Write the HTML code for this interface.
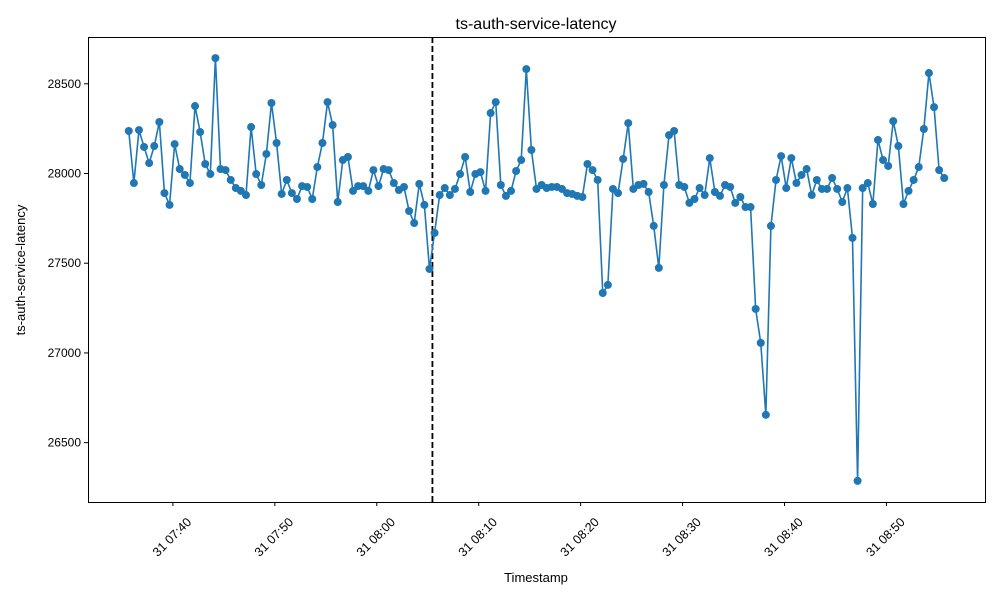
<!DOCTYPE html>
<html><head><meta charset="utf-8"><style>
body{margin:0;background:#fff}
svg{font-family:"Liberation Sans","DejaVu Sans",sans-serif}
</style></head><body>
<svg id="chart" width="1000" height="600" xmlns="http://www.w3.org/2000/svg">
<rect width="1000" height="600" fill="#fff"/>
<text x="536" y="29" font-size="16" text-anchor="middle">ts-auth-service-latency</text>
<text x="536" y="582" font-size="13" text-anchor="middle">Timestamp</text>
<text transform="translate(25,270) rotate(-90)" font-size="13" text-anchor="middle">ts-auth-service-latency</text>
<g id="plot"></g>
<rect x="88.5" y="37.5" width="897" height="465" fill="none" stroke="#000" stroke-width="1"/>
</svg>
<script>
const values = [28237,27947,28242,28148,28058,28153,28287,27891,27825,28164,
28025,27992,27947,28376,28231,28053,27997,28643,28025,28019,
27964,27919,27903,27880,28259,27997,27936,28109,28393,28170,
27886,27964,27891,27858,27930,27925,27858,28036,28170,28398,
28270,27841,28075,28092,27903,27930,27930,27903,28019,27930,
28025,28019,27947,27908,27925,27791,27724,27942,27825,27468,
27669,27880,27919,27880,27914,27997,28092,27897,27997,28008,
27903,28337,28398,27936,27875,27903,28014,28075,28582,28131,
27914,27936,27919,27925,27925,27914,27891,27886,27875,27869,
28053,28019,27964,27334,27379,27914,27891,28081,28281,27914,
27936,27942,27897,27708,27474,27936,28214,28237,27936,27925,
27836,27858,27919,27880,28086,27897,27875,27936,27925,27836,
27869,27813,27813,27245,27056,26655,27708,27964,28097,27919,
28086,27947,27992,28025,27880,27964,27914,27914,27975,27914,
27841,27919,27641,26287,27919,27947,27830,28187,28075,28042,
28292,28153,27830,27903,27964,28036,28248,28560,28370,28019,
27975];
const startMinute = -4.33; // minutes relative to 07:40 (first sample ~07:35:40)
const stepMinutes = 0.5;
const yTicks = [26500,27000,27500,28000,28500];
const xTickLabels = ["31 07:40","31 07:50","31 08:00","31 08:10","31 08:20","31 08:30","31 08:40","31 08:50"];
const xTickMinutes = [0,10,20,30,40,50,60,70];
const eventMinute = 25.46;

const NS="http://www.w3.org/2000/svg";
const plot=document.getElementById('plot');
const X0=88,X1=985,Y0=37,Y1=502;
const tMin=startMinute-0.05*(values.length-1)*stepMinutes, tMax=startMinute+(values.length-1)*stepMinutes*1.05;
const vmin=Math.min(...values), vmax=Math.max(...values);
const yMin=vmin-0.05*(vmax-vmin), yMax=vmax+0.05*(vmax-vmin);
const xs=t=>X0+(t-tMin)/(tMax-tMin)*(X1-X0);
const ys=v=>Y1-(v-yMin)/(yMax-yMin)*(Y1-Y0);
function mk(tag,attrs){const e=document.createElementNS(NS,tag);for(const k in attrs)e.setAttribute(k,attrs[k]);return e;}

yTicks.forEach((v,i)=>{
  const y=ys(v);
  const t=mk('line',{x1:X0-4,x2:X0,y1:y,y2:y,stroke:'#000'});
  
  
  plot.appendChild(t);
  const l=mk('text',{x:X0-7,y:y+4,'font-size':12,'text-anchor':'end'});
  
  
  l.textContent=v;plot.appendChild(l);
});
xTickMinutes.forEach((m,i)=>{
  const x=xs(m);
  const t=mk('line',{x1:x,x2:x,y1:Y1,y2:Y1+4,stroke:'#000'});
  
  
  plot.appendChild(t);
  const l=mk('text',{transform:`translate(${x+2},${Y1+38}) rotate(-45)`,'font-size':12.5,'text-anchor':'middle'});
  
  
  l.textContent=xTickLabels[i];plot.appendChild(l);
});
const ex=xs(eventMinute);
const dl=mk('line',{x1:ex,x2:ex,y1:Y0,y2:Y1,stroke:'#000','stroke-width':1.8,'stroke-dasharray':'6,3'});


plot.appendChild(dl);
const pts=values.map((v,i)=>[xs(startMinute+i*stepMinutes),ys(v)]);
const pl=mk('polyline',{points:pts.map(p=>p.join(',')).join(' '),fill:'none',stroke:'#1f77b4','stroke-width':1.6});


plot.appendChild(pl);
pts.forEach(p=>{
  const c=mk('circle',{cx:p[0],cy:p[1],r:4,fill:'#1f77b4'});
  
  
  plot.appendChild(c);
});
</script>
</body></html>
